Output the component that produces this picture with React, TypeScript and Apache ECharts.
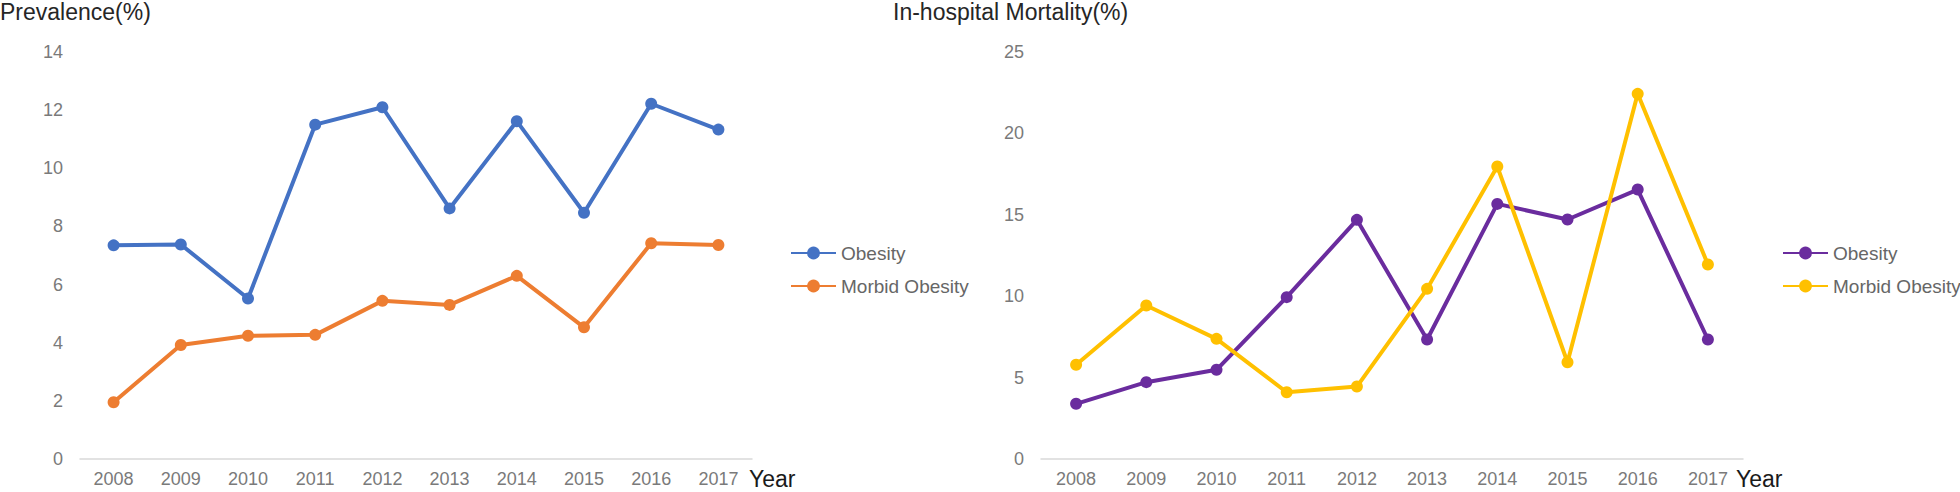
import React, { useEffect, useRef } from "react";
import * as echarts from "echarts";

const years = ["2008", "2009", "2010", "2011", "2012", "2013", "2014", "2015", "2016", "2017"];
const prevObesity = [7.35, 7.38, 5.52, 11.5, 12.1, 8.62, 11.62, 8.47, 12.22, 11.33];
const prevMorbid = [1.95, 3.92, 4.24, 4.27, 5.44, 5.3, 6.3, 4.53, 7.42, 7.36];
const mortObesity = [3.39, 4.72, 5.48, 9.94, 14.69, 7.34, 15.67, 14.71, 16.55, 7.34];
const mortMorbid = [5.79, 9.43, 7.38, 4.1, 4.45, 10.45, 17.97, 5.94, 22.43, 11.95];
const seriesNames = ["Obesity", "Morbid Obesity"];

const FONT = "Liberation Sans";

function buildOption(opts: {
  title: string;
  titleX: number;
  gridLeft: number;
  gridRight: number;
  yMax: number;
  yInterval: number;
  yearX: number;
  legendLeft: number;
  colors: string[];
  data: number[][];
}) {
  return {
    animation: false,
    graphic: [
      {
        type: "text",
        x: opts.titleX,
        y: 12,
        style: {
          text: opts.title,
          fontFamily: FONT,
          fontSize: 23,
          fill: "#262626",
          verticalAlign: "middle",
        },
      },
      {
        type: "text",
        x: opts.yearX,
        y: 479,
        style: {
          text: "Year",
          fontFamily: FONT,
          fontSize: 23,
          lineHeight: 23,
          fill: "#1a1a1a",
          verticalAlign: "middle",
        },
      },
    ],
    legend: {
      orient: "vertical",
      left: opts.legendLeft,
      top: 238,
      itemWidth: 45,
      itemHeight: 16,
      itemGap: 13,
      textStyle: { fontFamily: FONT, fontSize: 19, color: "#666666", lineHeight: 20 },
      data: seriesNames,
    },
    grid: { left: opts.gridLeft, right: opts.gridRight, top: 52, bottom: 33 },
    xAxis: {
      type: "category",
      data: years,
      boundaryGap: true,
      axisLine: { show: true, lineStyle: { color: "#d9d9d9", width: 1.5 } },
      axisTick: { show: false },
      axisLabel: { fontFamily: FONT, fontSize: 18, color: "#7a7a7a", margin: 11 },
      splitLine: { show: false },
    },
    yAxis: {
      type: "value",
      min: 0,
      max: opts.yMax,
      interval: opts.yInterval,
      axisLine: { show: false },
      axisTick: { show: false },
      splitLine: { show: false },
      axisLabel: { fontFamily: FONT, fontSize: 18, color: "#7a7a7a", margin: 17 },
    },
    series: seriesNames.map((name, i) => ({
      name,
      type: "line",
      data: opts.data[i],
      symbol: "circle",
      symbolSize: 12,
      lineStyle: { width: 4, color: opts.colors[i] },
      itemStyle: { color: opts.colors[i] },
    })),
  };
}

function Chart(props: { left: number; width: number; option: any }) {
  const ref = useRef<HTMLDivElement>(null);
  useEffect(() => {
    if (!ref.current) return;
    const chart = echarts.init(ref.current, undefined, { renderer: "svg" });
    chart.setOption(props.option);
    return () => chart.dispose();
  }, []);
  return (
    <div
      ref={ref}
      style={{ position: "absolute", left: props.left, top: 0, width: props.width, height: 492 }}
    />
  );
}

export default function App() {
  const leftOpt = buildOption({
    title: "Prevalence(%)",
    titleX: 0,
    gridLeft: 80,
    gridRight: 980 - 752,
    yMax: 14,
    yInterval: 2,
    yearX: 749,
    legendLeft: 785,
    colors: ["#4472C4", "#ED7D31"],
    data: [prevObesity, prevMorbid],
  });
  const rightOpt = buildOption({
    title: "In-hospital Mortality(%)",
    titleX: 893 - 880,
    gridLeft: 1041 - 880,
    gridRight: 1960 - 1743,
    yMax: 25,
    yInterval: 5,
    yearX: 1736 - 880,
    legendLeft: 1777 - 880,
    colors: ["#6A2C9E", "#FFC000"],
    data: [mortObesity, mortMorbid],
  });
  return (
    <div style={{ position: "fixed", left: 0, top: 0, width: 1960, height: 492, background: "#fff" }}>
      <Chart left={0} width={980} option={leftOpt} />
      <Chart left={880} width={1080} option={rightOpt} />
    </div>
  );
}
